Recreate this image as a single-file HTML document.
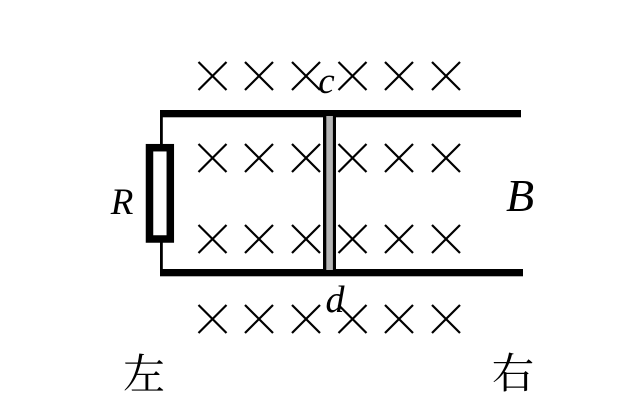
<!DOCTYPE html>
<html>
<head>
<meta charset="utf-8">
<style>
  html, body { margin: 0; padding: 0; background: #fff; }
  svg { display: block; }
</style>
</head>
<body>
<svg width="643" height="419" viewBox="0 0 643 419" xmlns="http://www.w3.org/2000/svg">
  <rect width="643" height="419" fill="#fff"/>
  <!-- crosses -->
  <g stroke="#000" stroke-width="2.2" stroke-linecap="butt">
    <!-- row 1 y=76 -->
    <path d="M198.5 62 L226.5 90 M226.5 62 L198.5 90"/>
    <path d="M245 62 L273 90 M273 62 L245 90"/>
    <path d="M292 62 L320 90 M320 62 L292 90"/>
    <path d="M338.5 62 L366.5 90 M366.5 62 L338.5 90"/>
    <path d="M385 62 L413 90 M413 62 L385 90"/>
    <path d="M432 62 L460 90 M460 62 L432 90"/>
    <!-- row 2 y=158 -->
    <path d="M198.5 144 L226.5 172 M226.5 144 L198.5 172"/>
    <path d="M245 144 L273 172 M273 144 L245 172"/>
    <path d="M292 144 L320 172 M320 144 L292 172"/>
    <path d="M338.5 144 L366.5 172 M366.5 144 L338.5 172"/>
    <path d="M385 144 L413 172 M413 144 L385 172"/>
    <path d="M432 144 L460 172 M460 144 L432 172"/>
    <!-- row 3 y=239 -->
    <path d="M198.5 225 L226.5 253 M226.5 225 L198.5 253"/>
    <path d="M245 225 L273 253 M273 225 L245 253"/>
    <path d="M292 225 L320 253 M320 225 L292 253"/>
    <path d="M338.5 225 L366.5 253 M366.5 225 L338.5 253"/>
    <path d="M385 225 L413 253 M413 225 L385 253"/>
    <path d="M432 225 L460 253 M460 225 L432 253"/>
    <!-- row 4 y=319 -->
    <path d="M198.5 305 L226.5 333 M226.5 305 L198.5 333"/>
    <path d="M245 305 L273 333 M273 305 L245 333"/>
    <path d="M292 305 L320 333 M320 305 L292 333"/>
    <path d="M338.5 305 L366.5 333 M366.5 305 L338.5 333"/>
    <path d="M385 305 L413 333 M413 305 L385 333"/>
    <path d="M432 305 L460 333 M460 305 L432 333"/>
  </g>

  <!-- rails -->
  <rect x="160" y="110" width="361" height="7.3" fill="#000"/>
  <rect x="160" y="269" width="363" height="7.3" fill="#000"/>

  <!-- left thin wire -->
  <rect x="160" y="110" width="2.8" height="36" fill="#000"/>
  <rect x="160" y="240" width="2.8" height="36" fill="#000"/>

  <!-- resistor -->
  <rect x="149.5" y="147.7" width="20.8" height="91.3" fill="#fff" stroke="#000" stroke-width="7.5"/>

  <!-- rod -->
  <rect x="323" y="116" width="13" height="154" fill="#000"/>
  <rect x="326.3" y="116" width="6.6" height="154" fill="#b4b4b4"/>

  <!-- labels -->
  <g font-family="'Liberation Serif', serif" font-style="italic" fill="#000">
    <text x="326.5" y="93" font-size="37" text-anchor="middle">c</text>
    <text x="335" y="312" font-size="38" text-anchor="middle">d</text>
    <text x="122" y="214" font-size="37" text-anchor="middle">R</text>
    <text x="520" y="211" font-size="46" text-anchor="middle">B</text>
  </g>
  <g font-family="'Liberation Serif', 'Noto Serif CJK SC', serif" fill="#000" font-size="42">
    <text x="144" y="389" text-anchor="middle">左</text>
    <text x="513" y="388" text-anchor="middle">右</text>
  </g>
</svg>
</body>
</html>
